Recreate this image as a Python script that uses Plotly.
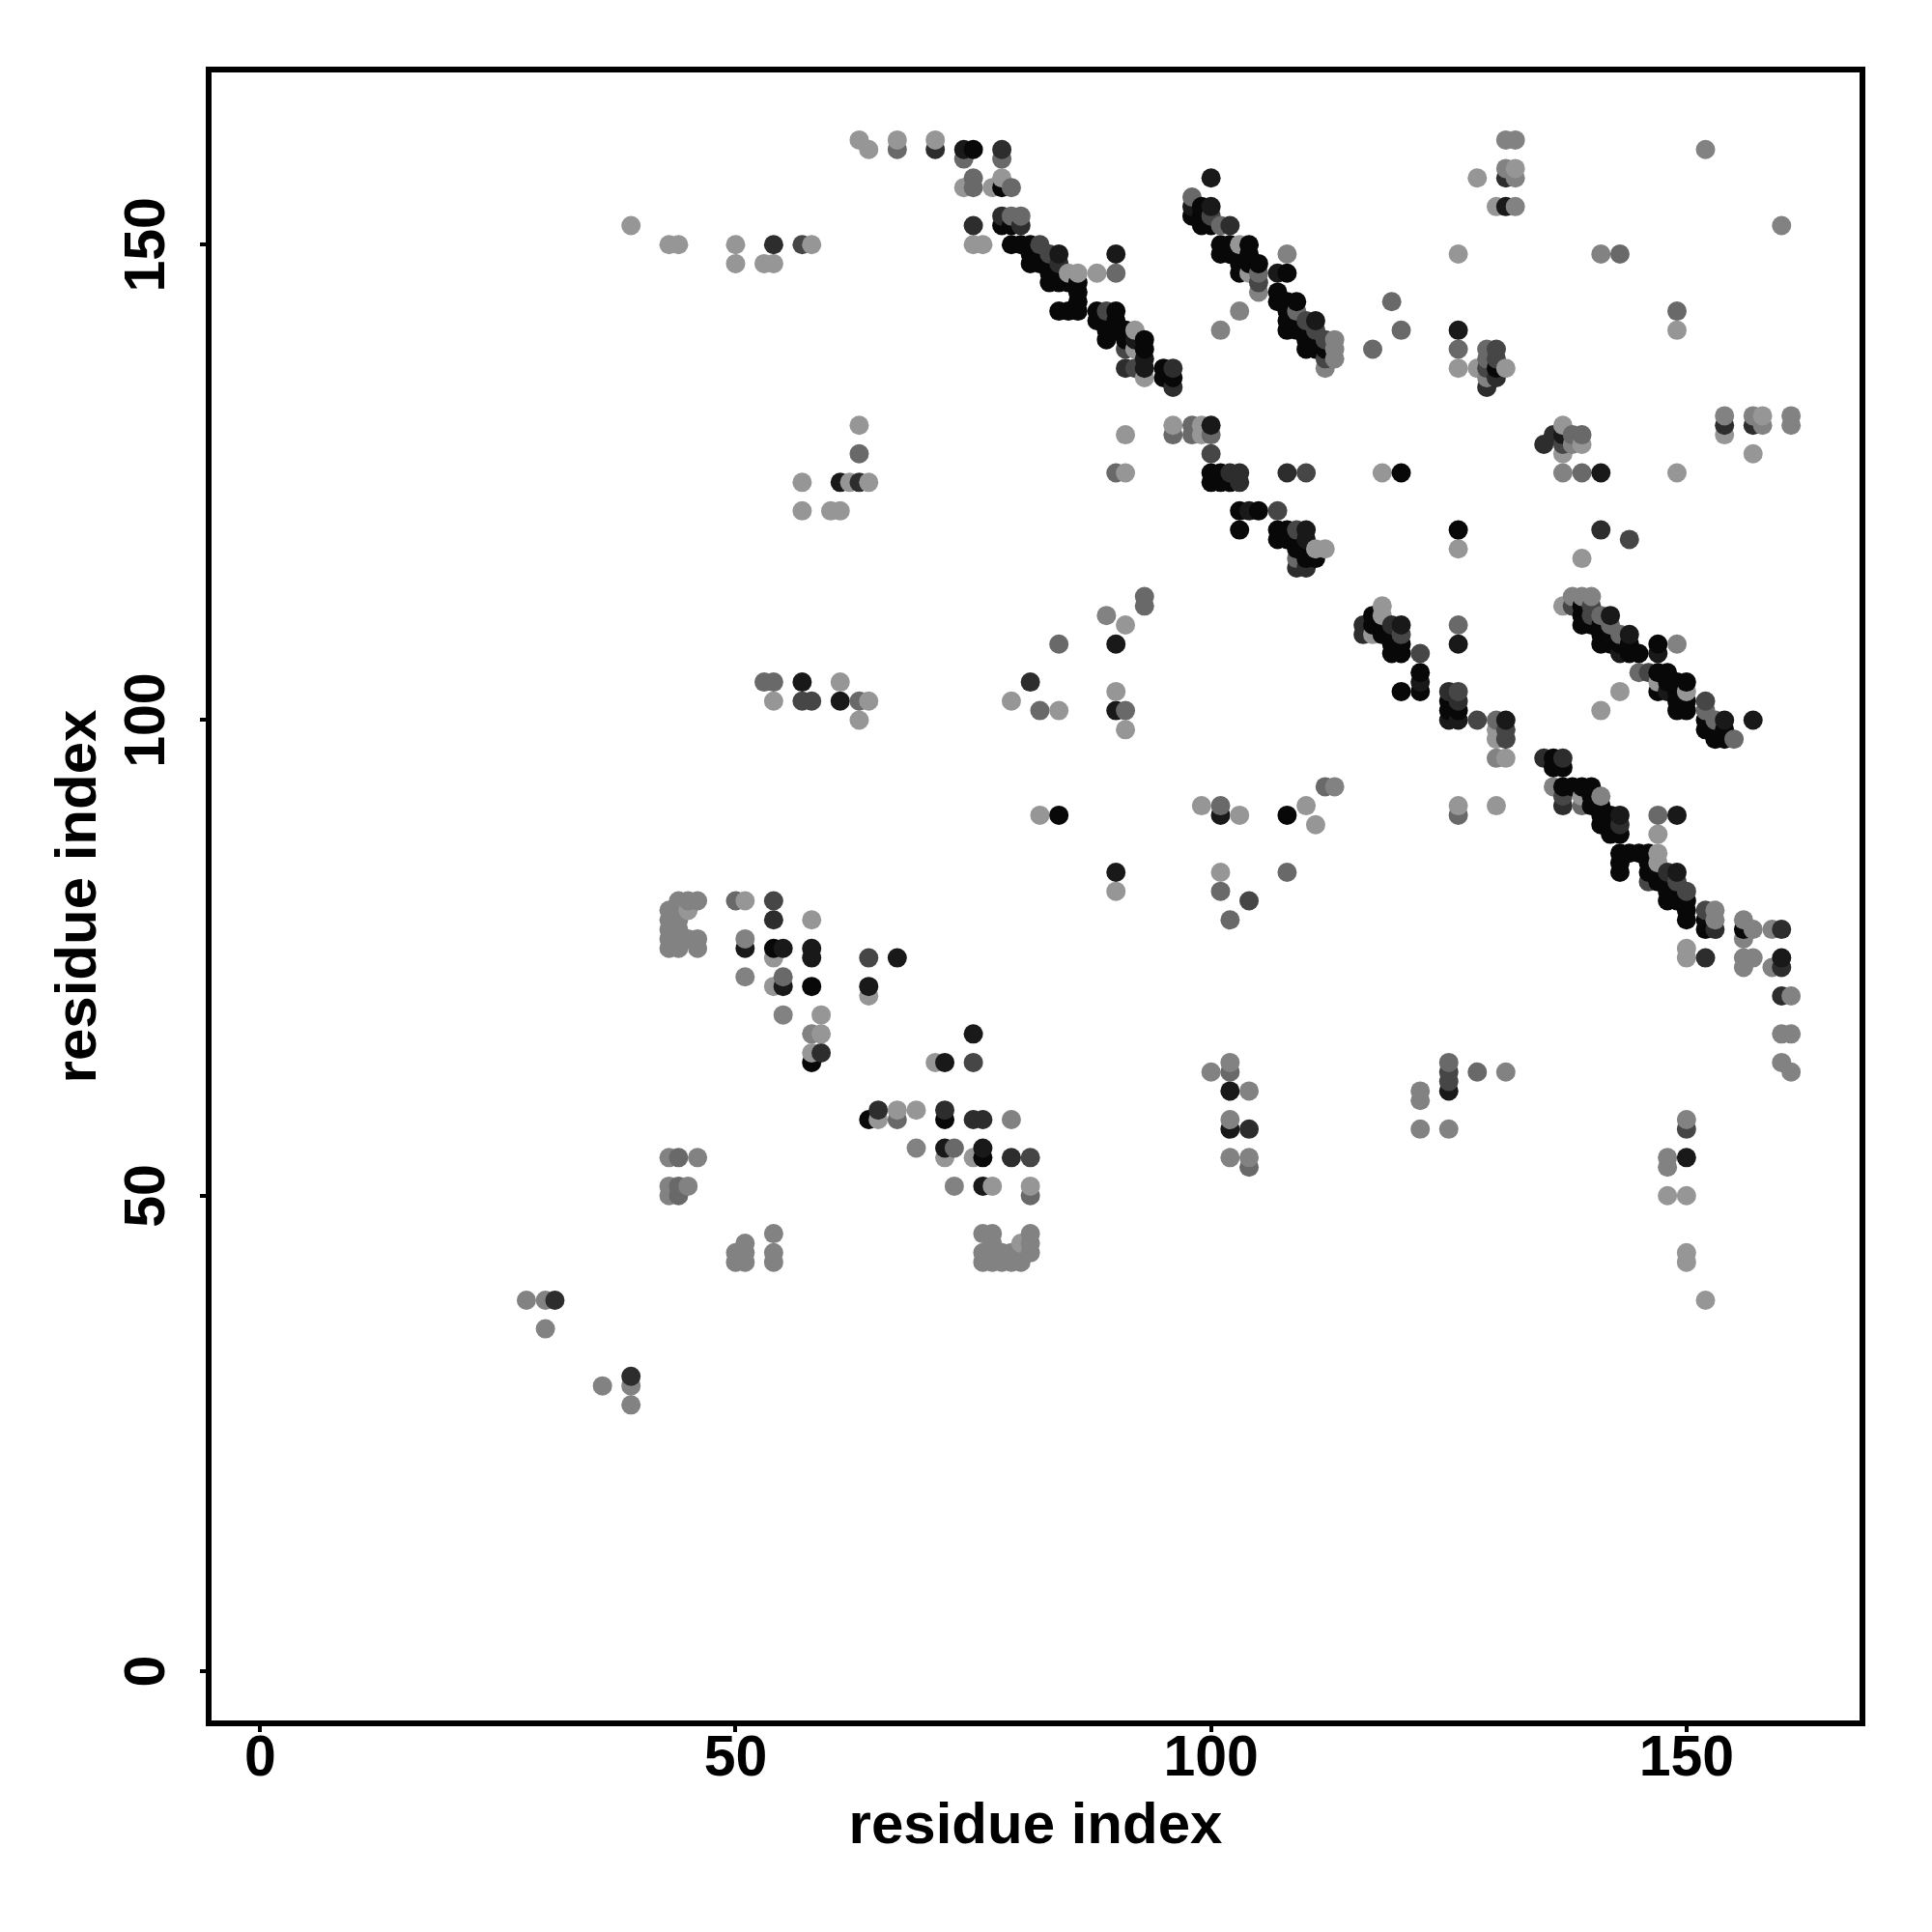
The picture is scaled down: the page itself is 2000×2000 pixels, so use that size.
import plotly.graph_objects as go

# residue contacts (i, j), grouped by grey level of the marker
shade_8 = [
(78,156),(78,152),(79,152),(79,150),(80,150),(81,150),(81,149),(82,149),(81,148),(82,148),(83,148),(83,147),(84,147),
(83,146),(84,146),(85,146),(86,146),(86,145),(86,144),(84,143),(85,143),(86,143),(88,143),(90,143),(88,142),(89,142),
(90,142),(89,141),(90,141),(91,141),(89,140),(91,140),(93,140),(93,139),(95,137),(95,136),(96,136),(75,160),
(98,153),(99,154),(99,153),(99,152),(100,152),(101,150),(102,150),(104,150),(101,149),(102,149),(104,149),(103,148),
(104,148),(105,148),(103,147),(105,147),(108,147),(107,145),(107,144),(108,144),(109,144),(108,143),(108,142),(109,142),
(108,141),(109,141),(110,141),(110,140),(111,140),(110,139),(111,139),(112,139),(130,137),
(100,126),(101,126),(100,125),(101,125),(102,125),(103,122),(105,122),(103,120),(120,126),(107,120),(108,120),(107,119),
(108,119),(109,119),(109,118),(110,118),(110,117),(111,117),(117,111),(117,110),(118,110),(118,109),(119,109),(119,108),
(120,108),(119,107),(120,107),(122,105),(122,103),(120,103),(125,102),(125,101),(126,101),(125,100),
(126,120),(139,112),(139,111),(140,111),(139,110),(140,110),(141,110),(141,109),(142,109),(141,108),(142,108),(143,108),
(144,108),(147,108),(144,107),(145,107),(147,105),(148,105),(148,104),(149,104),(150,104),(147,103),(149,103),(149,102),
(150,102),(149,101),(150,101),(152,100),(152,99),(153,99),(154,99),(153,98),(154,98),(136,96),(136,95),(137,95),
(137,93),(138,93),(139,93),(140,93),(140,92),(140,91),(141,91),(141,90),(142,90),(141,89),(142,89),(142,88),(143,88),
(143,86),(144,86),(145,86),(146,86),(143,85),(143,84),(146,85),(146,84),(147,84),(147,83),(148,83),(148,82),(149,82),
(148,81),(149,81),(150,81),(150,80),(150,79),(152,79),(152,78),(156,78),
(54,76),(58,72),(58,64),(64,58),(72,58),(76,54),(84,90),(108,90),
]
shade_25 = [
(74,160),(84,149),(100,157),(98,154),(100,154),(93,138),(93,137),(90,149),(104,122),(110,120),(110,119),(100,131),
(120,110),(126,100),(131,100),(154,100),(157,100),(144,109),(142,111),(147,107),(143,90),(149,84),(160,75),(72,64),
(64,72),(55,76),(58,76),(58,75),(76,55),(55,72),(72,55),(111,142),(131,154),(126,141),(141,126),(149,90),(126,108),
(90,101),(51,76),(75,67),(76,51),(90,108),(122,104),(125,100),(137,130),(150,54),(102,61),(125,61),(102,57),
(61,102),(57,104),(61,125),(67,75),(107,147),(92,140),(143,107),(148,103),(101,90),(90,84),
]
shade_45 = [
(71,160),(75,152),(78,160),(82,150),(78,153),(80,152),(96,137),(96,135),(91,137),(102,152),(84,148),(131,157),(130,136),
(129,135),(136,130),(135,129),(154,131),(157,131),(116,110),(116,109),(102,126),(103,126),(103,125),(108,126),(109,116),
(110,116),(125,103),(126,102),(119,110),(135,96),(137,96),(137,91),(54,79),(59,65),(65,59),(72,59),(75,58),(76,58),
(79,54),(31,39),(39,31),(160,78),(153,78),(152,75),(143,89),(160,71),(148,84),(63,125),(104,57),(160,74),
(122,107),(141,120),(81,104),(54,150),
]
shade_70 = [
(100,128),(107,122),(128,100),(122,107),(126,103),(120,109),(129,137),(137,129),(149,83),(150,82),(146,83),(137,92),
(152,80),(105,146),(112,138),(112,140),(111,141),(110,142),(89,143),(92,137),(91,139),(100,153),(82,150),(83,149),
(140,111),(138,112),(146,105),(152,102),(54,81),(64,75),(75,64),(81,54),(150,57),(125,63),(125,62),(57,102),(58,102),
(57,150),(104,81),(130,139),(130,138),(131,98),(131,99),(110,126),(144,119),(109,120),(140,112),
]
shade_105 = [
(67,160),(75,157),(75,156),(79,156),(79,153),(80,153),(90,147),(98,155),(105,147),(119,144),(120,141),(117,139),(126,139),
(129,139),(129,138),(138,130),(139,130),(143,149),(149,143),(139,126),(90,126),(96,130),(98,131),(98,130),(100,130),
(93,113),(93,112),(91,101),(126,110),(130,100),(155,98),(126,90),(139,91),(147,90),(50,81),(44,54),(44,51),(44,50),
(67,58),(73,55),(81,50),(55,73),(78,157),(74,159),(78,159),(109,143),(109,117),(142,110),(141,111),(145,105),(143,109),
(102,79),(101,82),(108,84),(112,93),(113,93),(53,104),(54,104),(63,102),(63,128),(82,101),(84,108),(104,53),
(128,63),(125,64),(102,63),(150,76),(131,96),(101,91),(101,152),(152,101),(153,100),
]
shade_130 = [
(113,140),(113,139),(113,138),(112,137),(108,149),(105,145),(103,143),(101,141),(131,161),(132,161),(131,158),(132,157),
(132,154),(152,160),(160,152),(141,149),(137,126),(126,137),(129,136),(138,129),(139,129),(154,132),(157,132),(158,131),
(161,132),(161,131),(89,111),(138,113),(139,113),(140,113),(141,92),(149,108),(130,96),(113,93),(153,80),(153,79),(156,79),
(157,78),(159,78),(156,75),(157,75),(51,77),(51,73),(55,69),(58,67),(73,51),(69,55),(79,58),(43,54),(46,54),(43,51),(45,51),
(43,50),(51,45),(51,44),(50,44),(50,43),(51,43),(54,46),(54,44),(54,43),
(43,80),(44,81),(45,81),(46,81),(44,80),(43,79),(44,79),(43,78),(44,78),(43,77),(44,77),(45,77),(46,77),(43,76),(44,76),(46,76),
(76,46),(77,46),(81,46),(77,45),(81,45),(76,44),(77,44),(78,44),(79,44),(80,44),(81,44),(76,43),(77,43),(78,43),(79,43),(80,43),
(148,54),(148,53),(150,58),(100,63),(102,64),(102,58),(102,54),(104,54),(104,61),(122,61),(122,60),(122,57),(125,57),(131,63),
(30,39),(39,28),(30,36),(36,30),(39,30),(28,39),(160,67),(161,67),(160,64),(161,63),(161,71),(159,74),(156,77),(156,74),(136,93),
]
shade_150 = [
(63,161),(64,160),(67,161),(71,161),(74,156),(77,156),(78,157),(75,150),(76,150),(85,147),(86,147),(88,147),(92,141),(92,139),
(93,136),(103,150),(104,147),(126,149),(128,157),(132,158),(130,154),(126,137),(128,137),(131,137),(137,131),(137,128),
(149,141),(149,126),(154,130),(158,132),(157,128),(91,130),(96,131),(99,131),(99,130),(91,126),(118,126),(111,118),(112,118),
(126,118),(91,110),(90,103),(91,99),(118,112),(118,111),(117,109),(130,99),(130,98),(131,96),(130,91),(126,91),(137,112),
(143,103),(141,101),(150,103),(147,104),(139,92),(147,88),(147,86),(147,85),(150,76),(150,75),(51,81),(58,79),(54,75),(54,72),
(59,69),(59,67),(58,65),(64,71),(71,64),(65,58),(67,59),(69,59),(72,54),(75,54),(77,51),(81,51),(150,50),(148,50),(150,44),(150,43),
(152,39),(39,152),(43,150),(44,150),(50,150),(50,148),(53,148),(54,148),(58,150),(63,131),(57,125),(62,125),(64,125),(57,122),
(60,122),(61,122),(79,102),(84,101),(61,104),(54,102),(64,102),(63,100),(82,90),(90,82),(101,84),(99,91),(103,90),(110,91),(111,89),
(45,80),(139,117),(80,45),(139,129),
]

levels = [(8, shade_8), (25, shade_25), (45, shade_45), (70, shade_70), (105, shade_105), (130, shade_130), (150, shade_150)]
points = {}
for grey, group in levels:
    for p in group:
        points[p] = grey
order = sorted(points)
x = [p[0] for p in order]
y = [p[1] for p in order]
colors = [f"rgb({points[p]},{points[p]},{points[p]})" for p in order]

tick_vals = [0, 50, 100, 150]
font = "Liberation Sans"
fig = go.Figure(go.Scatter(x=x, y=y, mode="markers",
                           marker=dict(size=20, color=colors, line=dict(width=0))))
axis = dict(tickvals=tick_vals, ticktext=[str(v) for v in tick_vals], showgrid=False, zeroline=False,
            showline=True, mirror=True, linecolor="black", linewidth=6,
            ticks="outside", ticklen=6, tickwidth=4, tickcolor="black",
            tickfont=dict(family=font, size=59, color="black", weight="bold"),
            title=dict(text="residue index", font=dict(family=font, size=60, color="black", weight="bold")))
fig.update_layout(width=2000, height=2000, autosize=False, paper_bgcolor="white", plot_bgcolor="white",
                  margin=dict(l=211, r=83, t=67, b=227), showlegend=False)
fig.update_xaxes(axis, range=[-5.11, 168.2], tickangle=0, ticklabelstandoff=-26)
fig.update_yaxes(axis, range=[-5.18, 168.1], tickangle=-90, ticklabelstandoff=13, ticklabelshift=9)
fig.update_xaxes(title_standoff=18)
fig.update_yaxes(title_standoff=0)
fig.write_html("out.html")
